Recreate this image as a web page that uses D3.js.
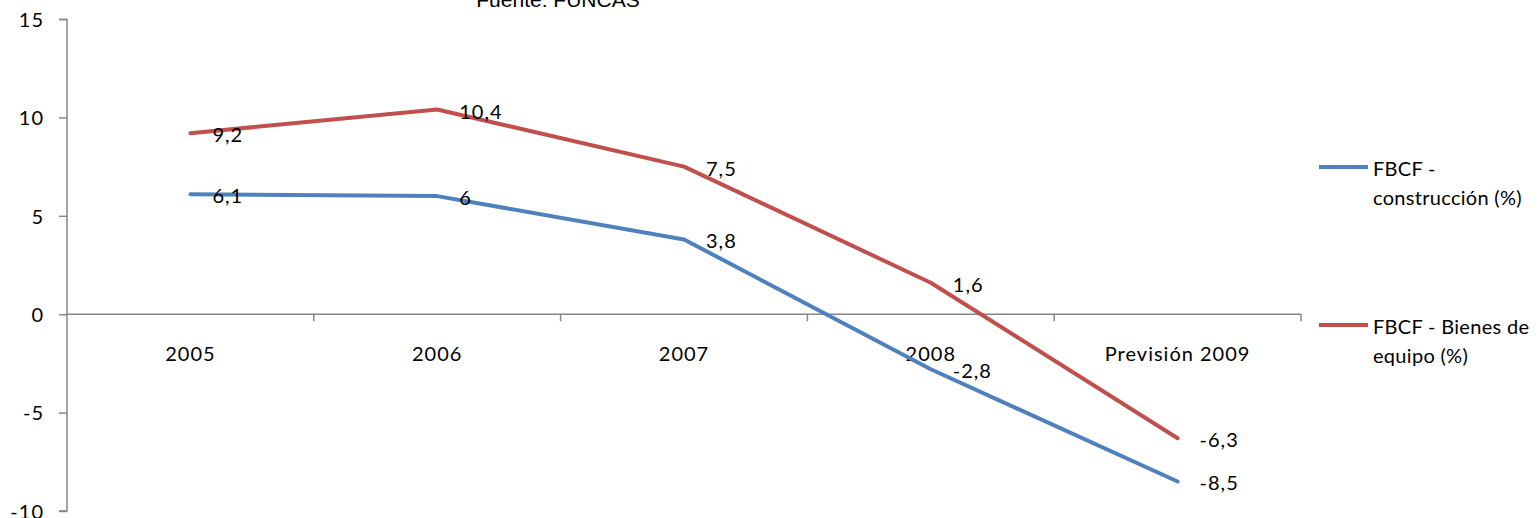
<!DOCTYPE html>
<html><head><meta charset="utf-8">
<script src="https://cdn.jsdelivr.net/npm/d3@7"></script>
<style>body{margin:0;background:#fff}svg{display:block}</style>
</head><body>
<svg id="c" width="1538" height="518"></svg>
<script>
const categories = ["2005","2006","2007","2008","Previsión 2009"];
const construccion = [6.1, 6, 3.8, -2.8, -8.5];
const bienes = [9.2, 10.4, 7.5, 1.6, -6.3];
const legendLines = [["FBCF -","construcción (%)"], ["FBCF - Bienes de","equipo (%)"]];
const yTicks = [-10,-5,0,5,10,15];
const fmt = v => String(v).replace(".", ",");

const svg = d3.select("#c");
const font = "Lato, 'Open Sans', sans-serif";
const fs = 20, ls = 1;
const x = d3.scaleBand().domain(categories).range([67, 1301]);
const y = d3.scaleLinear().domain([-10, 15]).range([511, 19]);
const axisColor = "#868686";

// title (cut off at the top as in the reference)
svg.append("text").attr("x", 558).attr("y", 7).attr("text-anchor","middle")
  .attr("font-family","'Liberation Sans', Arial, sans-serif").attr("font-size",21).text("Fuente: FUNCAS");

// y axis
const ya = svg.append("g").attr("transform","translate(67,0)")
  .call(d3.axisLeft(y).tickValues(yTicks).tickSize(8).tickFormat(d=>d));
ya.select(".domain").attr("stroke",axisColor).attr("stroke-width",1.5).attr("d","M-8,19.5H0V511H-8");
ya.selectAll(".tick line").attr("stroke",axisColor).attr("stroke-width",1.5);
ya.selectAll(".tick text").attr("font-family",font).attr("font-size",fs).attr("letter-spacing",ls)
  .attr("fill","#000").attr("x",-23).attr("dy","0.36em").attr("text-anchor","end");

// x axis at zero
const xa = svg.append("g").attr("transform",`translate(0,${y(0)})`)
  .call(d3.axisBottom(x).tickSize(0).tickFormat(d=>d));
xa.select(".domain").attr("stroke",axisColor).attr("stroke-width",1.5).attr("d",`M67,0H1301`);
xa.selectAll(".tick text").attr("font-family",font).attr("font-size",fs).attr("letter-spacing",ls)
  .attr("fill","#000").attr("y",47).attr("dy",null);
const boundaries = categories.map(c=>x(c)).concat([x.range()[1]]);
xa.selectAll(".bt").data(boundaries.slice(1)).enter().append("line")
  .attr("x1",d=>d).attr("x2",d=>d).attr("y1",0).attr("y2",7)
  .attr("stroke",axisColor).attr("stroke-width",1.5);

const colors = ["#4F81BD","#C0504D"];
const data = [construccion, bienes];
const line = d3.line().x((d,i)=>x(categories[i])+x.bandwidth()/2).y(d=>y(d));
data.forEach((s,k)=>{
  svg.append("path").datum(s).attr("d",line).attr("fill","none")
    .attr("stroke",colors[k]).attr("stroke-width",4).attr("stroke-linejoin","round").attr("stroke-linecap","round");
});
data.forEach((s,k)=>{
  svg.selectAll(".lab"+k).data(s).enter().append("text")
    .attr("x",(d,i)=>x(categories[i])+x.bandwidth()/2+22)
    .attr("y",(d,i)=>y(d)+9)
    .attr("font-family",font).attr("font-size",fs).attr("letter-spacing",ls).text(d=>fmt(d));
});

// legend
const legY = [167, 325];
legendLines.forEach((lines,k)=>{
  svg.append("line").attr("x1",1319).attr("x2",1368).attr("y1",legY[k]).attr("y2",legY[k])
    .attr("stroke",colors[k]).attr("stroke-width",4);
  const t = svg.append("text").attr("font-family",font).attr("font-size",fs).attr("letter-spacing",0.3);
  lines.forEach((ln,j)=>{
    t.append("tspan").attr("x",1373).attr("y",legY[k]+8.5+j*29.5).text(ln);
  });
});
</script>
</body></html>
